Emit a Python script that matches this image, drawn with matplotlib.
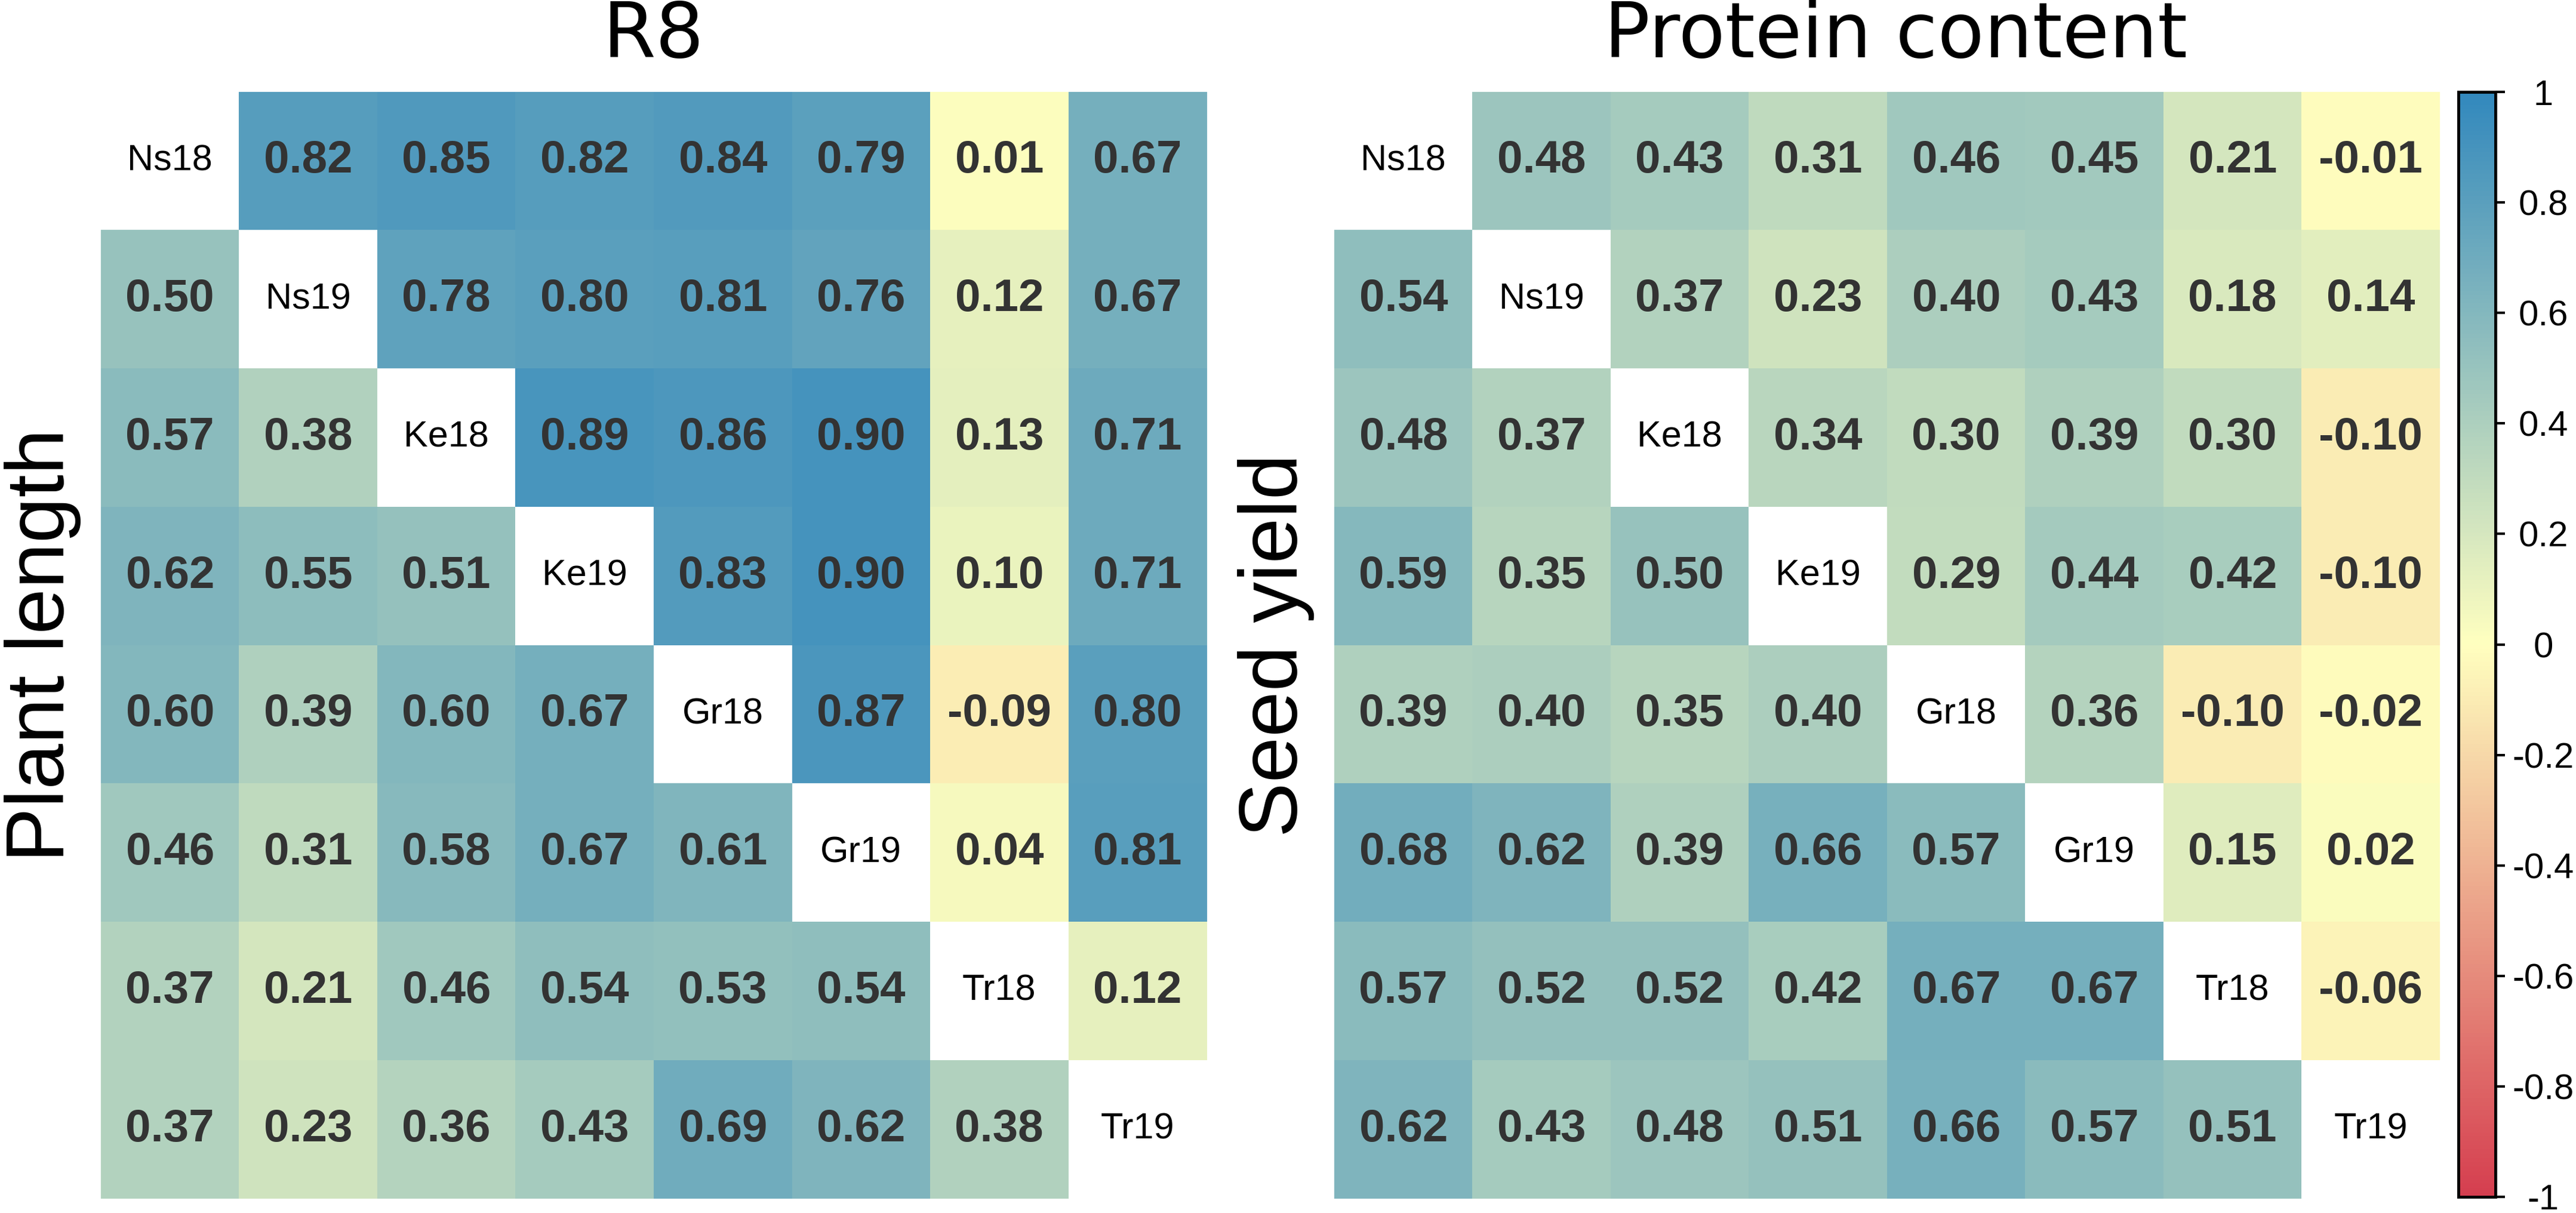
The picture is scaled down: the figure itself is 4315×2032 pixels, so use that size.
import numpy as np
import matplotlib
matplotlib.use("Agg")
from matplotlib import pyplot as plt
from matplotlib.colors import LinearSegmentedColormap

labels = ["Ns18", "Ns19", "Ke18", "Ke19", "Gr18", "Gr19", "Tr18", "Tr19"]

# upper triangle rows (above diagonal), lower triangle rows (below diagonal)
r8_upper = [
    [0.82, 0.85, 0.82, 0.84, 0.79, 0.01, 0.67],
    [0.78, 0.80, 0.81, 0.76, 0.12, 0.67],
    [0.89, 0.86, 0.90, 0.13, 0.71],
    [0.83, 0.90, 0.10, 0.71],
    [0.87, -0.09, 0.80],
    [0.04, 0.81],
    [0.12],
]
plant_lower = [
    [0.50],
    [0.57, 0.38],
    [0.62, 0.55, 0.51],
    [0.60, 0.39, 0.60, 0.67],
    [0.46, 0.31, 0.58, 0.67, 0.61],
    [0.37, 0.21, 0.46, 0.54, 0.53, 0.54],
    [0.37, 0.23, 0.36, 0.43, 0.69, 0.62, 0.38],
]
protein_upper = [
    [0.48, 0.43, 0.31, 0.46, 0.45, 0.21, -0.01],
    [0.37, 0.23, 0.40, 0.43, 0.18, 0.14],
    [0.34, 0.30, 0.39, 0.30, -0.10],
    [0.29, 0.44, 0.42, -0.10],
    [0.36, -0.10, -0.02],
    [0.15, 0.02],
    [-0.06],
]
seed_lower = [
    [0.54],
    [0.48, 0.37],
    [0.59, 0.35, 0.50],
    [0.39, 0.40, 0.35, 0.40],
    [0.68, 0.62, 0.39, 0.66, 0.57],
    [0.57, 0.52, 0.52, 0.42, 0.67, 0.67],
    [0.62, 0.43, 0.48, 0.51, 0.66, 0.57, 0.51],
]
cbar_ticks = [-1, -0.8, -0.6, -0.4, -0.2, 0, 0.2, 0.4, 0.6, 0.8, 1]
cbar_labels = ["-1", "-0.8", "-0.6", "-0.4", "-0.2", "0", "0.2", "0.4", "0.6", "0.8", "1"]


def build(upper, lower):
    n = len(labels)
    m = np.full((n, n), np.nan)
    for i, row in enumerate(upper):
        m[i, i + 1:] = row
    for i, row in enumerate(lower):
        m[i + 1, :i + 1] = row
    return m


W, H = 4315, 2032
DPI = 100
fig = plt.figure(figsize=(W / DPI, H / DPI), dpi=DPI)

cmap = LinearSegmentedColormap.from_list("corr", ["#D53E4F", "#FFFFBF", "#3288BD"])
cmap.set_bad("white")

top, bottom = 154, 2008


def px_axes(x0, x1, y0, y1):
    return fig.add_axes([x0 / W, 1 - y1 / H, (x1 - x0) / W, (y1 - y0) / H])


def heat(ax, m):
    im = ax.imshow(np.ma.masked_invalid(m), cmap=cmap, vmin=-1, vmax=1,
                   aspect="auto", interpolation="nearest")
    n = len(labels)
    for i in range(n):
        for j in range(n):
            if i == j:
                ax.text(j, i, labels[i], ha="center", va="center",
                        fontsize=44, family="Liberation Sans", color="black")
            else:
                ax.text(j, i, f"{m[i, j]:.2f}", ha="center", va="center",
                        fontsize=55, fontweight="bold",
                        family="Liberation Sans", color="#333333")
    ax.set_axis_off()
    return im


ax1 = px_axes(169, 2021, top, bottom)
heat(ax1, build(r8_upper, plant_lower))
ax2 = px_axes(2235, 4087, top, bottom)
im = heat(ax2, build(protein_upper, seed_lower))

fig.text((169 + 2021) / 2 / W, 1 - 96 / H, "R8", ha="center", va="baseline",
         fontsize=92, family="DejaVu Sans")
fig.text((2235 + 4087) / 2 / W + 15 / W, 1 - 96 / H, "Protein content",
         ha="center", va="baseline", fontsize=92, family="DejaVu Sans")

fig.text(72 / W, 1 - 1081 / H, "Plant length", rotation=90, ha="center",
         va="center", fontsize=99, family="Liberation Sans")
fig.text(2138 / W, 1 - 1081 / H, "Seed yield", rotation=90, ha="center",
         va="center", fontsize=99, family="Liberation Sans")

cax = px_axes(4118, 4180, top, 2005)
cbar = fig.colorbar(im, cax=cax, ticks=cbar_ticks)
cbar.ax.set_yticklabels(cbar_labels, family="Liberation Sans", fontsize=43)
cbar.outline.set_linewidth(3.5)
cbar.outline.set_edgecolor("black")
cbar.ax.tick_params(direction="out", length=11.5, width=3, pad=46)
for t in cbar.ax.get_yticklabels():
    t.set_horizontalalignment("center")

fig.savefig("out.png", dpi=DPI)
